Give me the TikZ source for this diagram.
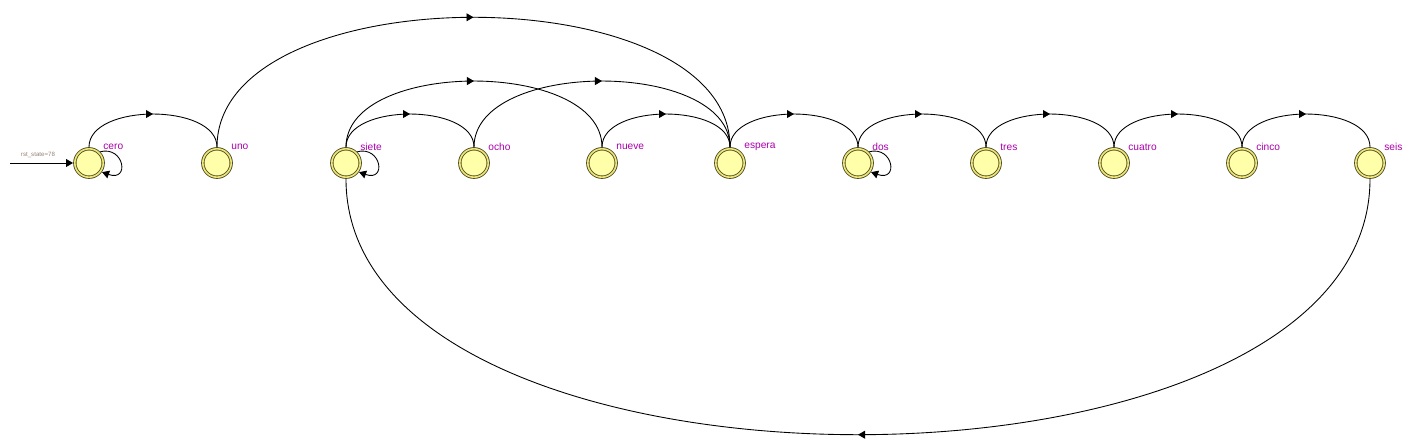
\documentclass[tikz,border=0pt]{standalone}
\usepackage{fontspec}
\setmainfont{Liberation Sans}
\usetikzlibrary{arrows.meta,decorations.markings,calc}
\definecolor{stfill}{RGB}{255,255,170}
\definecolor{string}{RGB}{240,230,120}
\definecolor{stline}{RGB}{80,80,40}
\definecolor{lblcol}{RGB}{170,0,170}
\definecolor{initcol}{RGB}{150,130,120}
\begin{document}
\begin{tikzpicture}[x=0.02cm,y=-0.02cm,
  state/.style={circle,draw=stline,line width=0.5pt,double=string,double distance=0.9pt,
    fill=stfill,minimum size=0.568cm,inner sep=0pt,outer sep=1pt},
  lbl/.style={text=lblcol,font=\fontsize{5.8}{6}\selectfont,anchor=west,inner sep=0pt},
  trans/.style={draw,line width=0.5pt,postaction={decorate},
    decoration={markings,mark=at position 0.5 with {\arrow{Triangle[length=4pt,width=4.5pt]}}}},
  selfloop/.style={draw,line width=0.5pt,-{Triangle[length=4pt,width=4.5pt]}}]
\useasboundingbox (0,0) rectangle (1410,448);
% states
\foreach \n/\x in {cero/89,uno/217,siete/346,ocho/474,nueve/602,espera/730,dos/858,tres/986,cuatro/1114,cinco/1242,seis/1370}{
  \node[state] (\n) at (\x,163) {};
  \node[lbl] (\n-l) at ($(\n.center)+(14,-16)$) {\n};
}
% initial arrow
\coordinate (init) at (10,163);
\draw[line width=0.5pt,-{Triangle[length=4pt,width=4.5pt]}] (init) -- (cero.west);
\node[text=initcol,font=\fontsize{3.5}{4}\selectfont,inner sep=0pt] (initl) at (38,155) {rst\_state=78};
% short arcs
\foreach \a/\b in {cero/uno,siete/ocho,nueve/espera,espera/dos,dos/tres,tres/cuatro,cuatro/cinco,cinco/seis}{
  \path[trans] (\a.north) .. controls +(0,-44) and +(0,-44) .. (\b.north);
}
% medium arcs
\path[trans] (siete.north) .. controls +(0,-88) and +(0,-88) .. (nueve.north);
\path[trans] (ocho.north) .. controls +(0,-88) and +(0,-88) .. (espera.north);
% big top arc
\path[trans] (uno.north) .. controls +(0,-173) and +(0,-173) .. (espera.north);
% bottom arc
\path[trans] (seis.south) .. controls +(0,341) and +(0,341) .. (siete.south);
% self loops
\foreach \n in {cero,siete,dos}{
  \path[selfloop] (\n.45) .. controls +(24,-6) and +(28,10) .. (\n.-35);
}
\end{tikzpicture}
\end{document}
